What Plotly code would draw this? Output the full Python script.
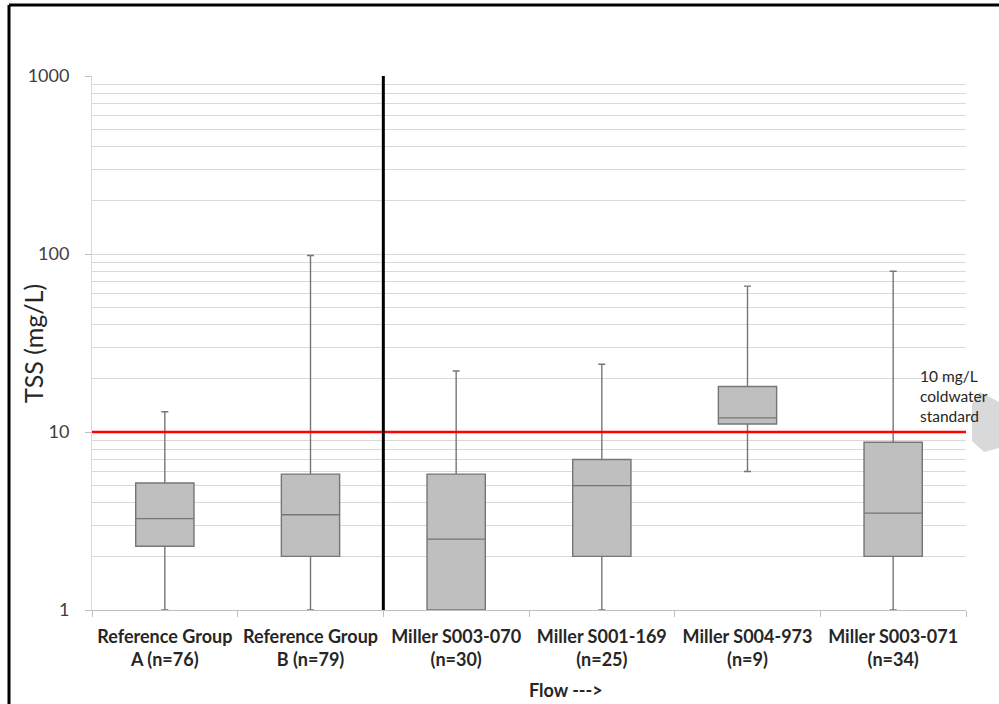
import plotly.graph_objects as go

# ---- data ----
categories = ["Reference Group<br>A (n=76)", "Reference Group<br>B (n=79)",
              "Miller S003-070<br>(n=30)", "Miller S001-169<br>(n=25)",
              "Miller S004-973<br>(n=9)", "Miller S003-071<br>(n=34)"]
mins    = [1.0, 1.0, 1.0, 1.0, 6.0, 1.0]
q1s     = [2.28, 2.0, 1.0, 2.0, 11.1, 2.0]
medians = [3.26, 3.43, 2.5, 5.0, 12.0, 3.5]
q3s     = [5.17, 5.8, 5.8, 7.0, 18.0, 8.75]
maxs    = [13.0, 98.0, 22.0, 24.0, 66.0, 80.0]
y_tick_vals = [1, 10, 100, 1000]
y_tick_text = ["1", "10", "100", "1000"]
standard_value = 10
divider_position = 1.5

# ---- geometry helpers (pixel -> paper) ----
L, R, T, B = 92, 966, 76, 610
def px(x): return (x - L) / (R - L)
def py(y): return (B - y) / (B - T)

FONT = "Lato"
fig = go.Figure()
fig.add_trace(go.Box(
    x=categories, q1=q1s, median=medians, q3=q3s,
    lowerfence=mins, upperfence=maxs,
    width=0.4, whiskerwidth=0.12,
    fillcolor="#bfbfbf", line=dict(color="#767676", width=1.4),
    boxpoints=False, showlegend=False, hoverinfo="skip"))

minor_vals = [k * 10 ** d for d in range(3) for k in range(2, 10)]

fig.update_layout(
    width=999, height=704,
    margin=dict(l=L, r=999 - R, t=T, b=704 - B),
    paper_bgcolor="white", plot_bgcolor="white",
    font=dict(family=FONT, color="#404040"),
    showlegend=False,
    xaxis=dict(type="category", tickson="boundaries", ticks="outside", ticklen=6,
               tickcolor="#bfbfbf", showline=True, linecolor="#bfbfbf", linewidth=1,
               showgrid=False, zeroline=False,
               tickmode="array", tickvals=categories,
               ticktext=["<b>" + c + "</b>" for c in categories],
               ticklabelstandoff=10,
               tickfont=dict(family=FONT, size=18, color="#262626")),
    yaxis=dict(type="log", range=[0, 3], tickmode="array", tickvals=y_tick_vals,
               ticktext=y_tick_text, ticks="outside", ticklen=6, tickcolor="#bfbfbf",
               showline=True, linecolor="#d9d9d9", linewidth=1,
               showgrid=True, gridcolor="#d9d9d9", gridwidth=1, zeroline=False,
               tickfont=dict(family=FONT, size=18, color="#404040"),
               ticklabelstandoff=12,
               minor=dict(tickmode="array", tickvals=minor_vals, showgrid=True,
                          gridcolor="#d9d9d9", gridwidth=1, ticks="")),
)

# red standard line
fig.add_shape(type="line", xref="paper", yref="y", x0=0, x1=1,
              y0=standard_value, y1=standard_value,
              line=dict(color="#ff0000", width=2.5))
# divider line
fig.add_shape(type="line", xref="x", yref="y", x0=divider_position, x1=divider_position,
              y0=1, y1=1000, line=dict(color="black", width=3))

# frame
fig.add_shape(type="line", xref="paper", yref="paper", x0=px(9), x1=px(1010),
              y0=py(5), y1=py(5), line=dict(color="black", width=3))
fig.add_shape(type="line", xref="paper", yref="paper", x0=px(9), x1=px(9),
              y0=py(5), y1=py(720), line=dict(color="black", width=3))

# grey callout fragment at right edge
pts = [(980, 392), (999, 402), (999, 448), (984, 452), (972, 441), (972, 404)]
path = "M " + " L ".join(f"{px(a):.4f},{py(b):.4f}" for a, b in pts) + " Z"
fig.add_shape(type="path", xref="paper", yref="paper", path=path,
              fillcolor="#d9d9d9", line=dict(width=0), layer="below")

# annotations
fig.add_annotation(text="TSS (mg/L)", textangle=-90, xref="paper", yref="paper",
                   x=px(33), y=0.5, xanchor="center", yanchor="middle", showarrow=False,
                   font=dict(family=FONT, size=25, color="#262626"))
fig.add_annotation(text="<b>Flow ---></b>", xref="paper", yref="paper",
                   x=px(527), y=py(690), xanchor="left", yanchor="middle", showarrow=False,
                   font=dict(family=FONT, size=18, color="#262626"))
fig.add_annotation(text="10 mg/L<br>coldwater<br>standard", xref="paper", yref="paper",
                   x=px(918), y=py(396), xanchor="left", yanchor="middle", align="left",
                   showarrow=False, font=dict(family=FONT, size=15.5, color="#262626"))

fig.write_html("out.html", config={"displayModeBar": False},
               post_script="document.body.style.margin='0px';")
